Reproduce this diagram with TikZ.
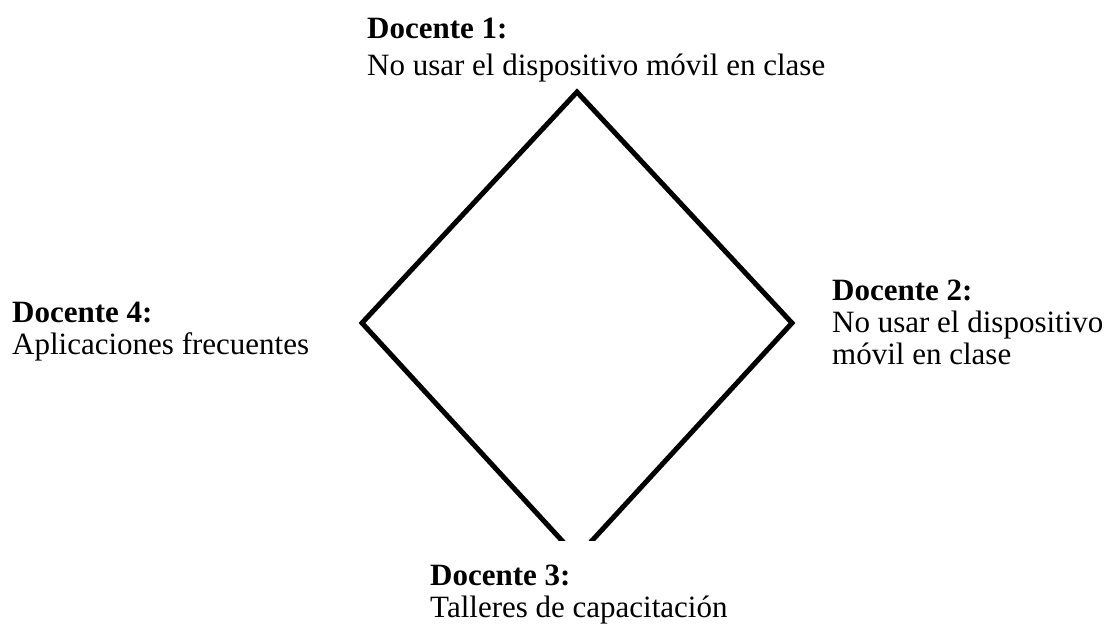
\documentclass[tikz,border=0pt]{standalone}
\usepackage{fontspec}
\setmainfont{Liberation Serif}
\usetikzlibrary{calc}
\begin{document}
\begin{tikzpicture}[x=1pt,y=-1pt,
	docente/.style={anchor=north west,inner sep=0pt,align=left,font=\fontsize{31}{32}\selectfont}]
	\useasboundingbox (0,0) rectangle (1112,627);
	% corners of the diamond
	\coordinate (top) at (577,92);
	\coordinate (right) at (792,323);
	\coordinate (bottom) at (577,557);
	\coordinate (left) at (362,323);
	% diamond, open at the bottom
	\begin{scope}
		\clip (0,0) rectangle (1112,540);
		\draw[line width=5pt] ($(left)!0.985!(bottom)$) -- (left) -- (top) -- (right) -- ($(right)!0.985!(bottom)$);
	\end{scope}
	% teachers
	\node[docente,font=\fontsize{31}{37}\selectfont] (doc1) at (367,18) {\textbf{Docente 1:}\\No usar el dispositivo móvil en clase};
	\node[docente] (doc2) at (832,280) {\textbf{Docente 2:}\\No usar el dispositivo\\móvil en clase};
	\node[docente] (doc3) at (430,565) {\textbf{Docente 3:}\\Talleres de capacitación};
	\node[docente] (doc4) at (12,302) {\textbf{Docente 4:}\\Aplicaciones frecuentes};
\end{tikzpicture}
\end{document}
